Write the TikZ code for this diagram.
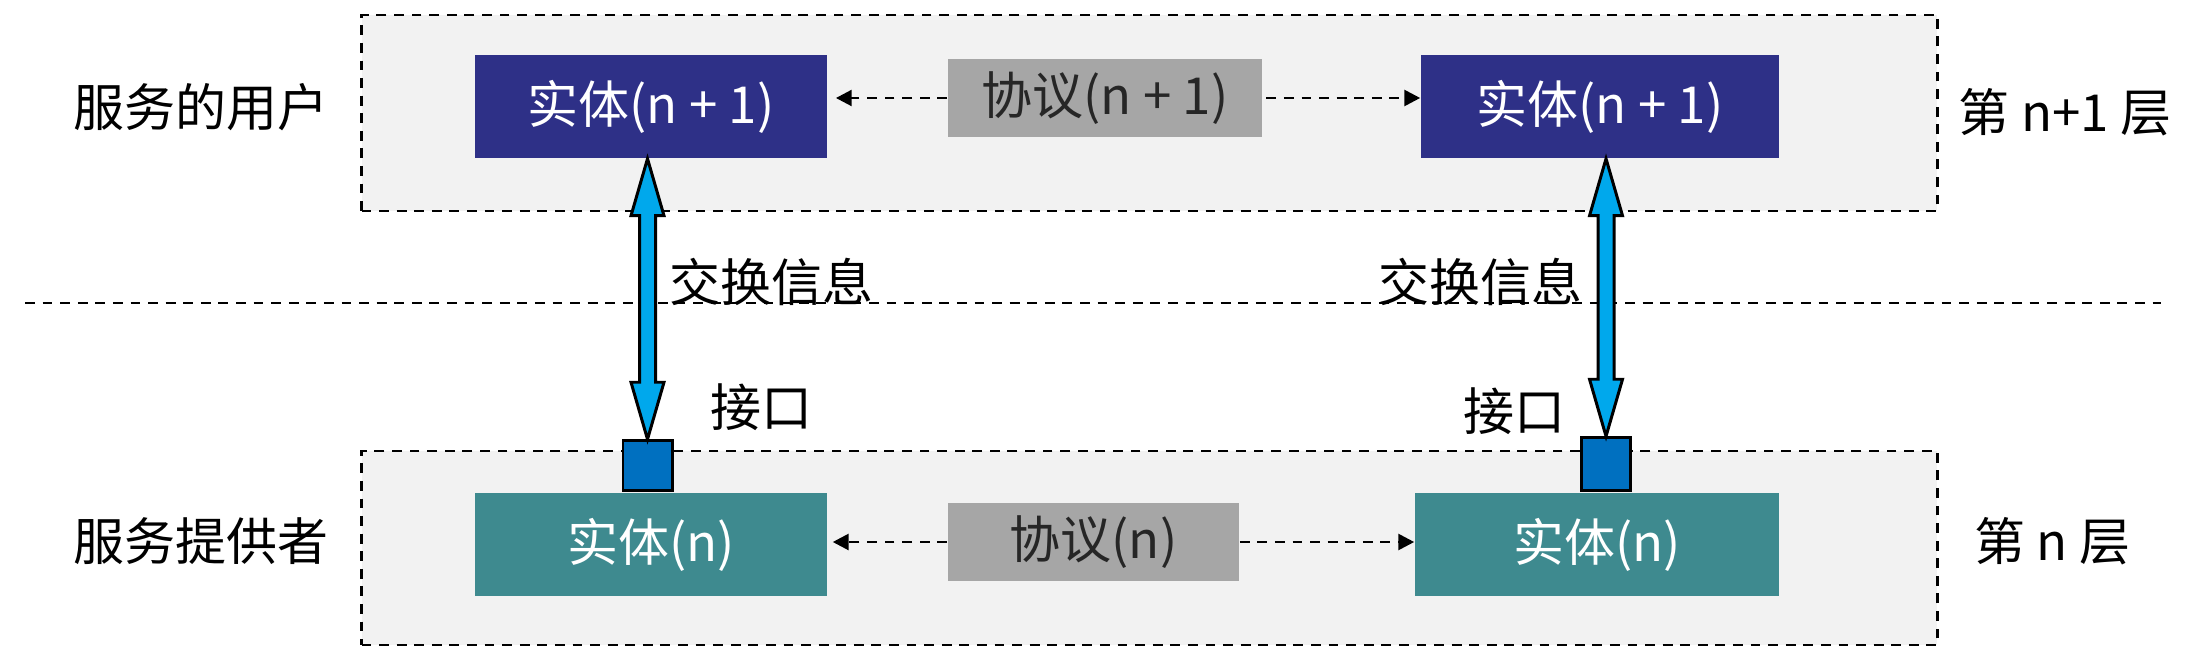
\documentclass[tikz,border=0pt]{standalone}
\usepackage{fontspec}
\setmainfont{Noto Sans CJK SC}
\usetikzlibrary{arrows.meta,positioning,calc}

\definecolor{entTop}{HTML}{2E3087}
\definecolor{entBot}{HTML}{3E8A8F}
\definecolor{protoGray}{HTML}{A6A6A6}
\definecolor{layerBg}{HTML}{F2F2F2}
\definecolor{flowBlue}{HTML}{00A8EC}
\definecolor{portBlue}{HTML}{0070C0}

\tikzset{
  layer/.style={draw, fill=layerBg, dash pattern=on 2.8pt off 2.2pt, line width=0.8pt,
    minimum width=15.75cm, inner sep=0pt},
  entity/.style={minimum height=1.03cm, inner sep=0pt, text=white},
  proto/.style={fill=protoGray, minimum height=0.78cm, inner sep=0pt, text=black!85},
  port/.style={draw, fill=portBlue, line width=0.85pt, minimum width=0.49cm,
    minimum height=0.5cm, inner sep=0pt},
  talk/.style={dash pattern=on 2.8pt off 2.2pt, line width=0.8pt,
    -{Triangle[length=4.5pt,width=4.5pt]}},
  divider/.style={dash pattern=on 2.8pt off 2.2pt, line width=0.8pt},
  flow/.style={draw, fill=flowBlue, line width=0.85pt, line join=miter},
  lbl/.style={inner sep=0pt}
}

\begin{document}
\begin{tikzpicture}[x=0.01cm,y=-0.01cm,font=\fontsize{14.5pt}{17pt}\selectfont]
  \useasboundingbox (0,0) rectangle (2186,658);

  % the two layers
  \node[layer, minimum height=1.96cm] (layTop) at (1149.5,113) {};
  \node[layer, minimum height=1.94cm] (layBot) at (1149.5,548) {};

  \coordinate (divW) at (25,303);
  \coordinate (divE) at (2161,303);
  \draw[divider] (divW) -- (divE);

  % entities and protocols
  \node[entity, fill=entTop, minimum width=3.52cm] (eT1) at (651,106.5) {实体(n + 1)};
  \node[entity, fill=entTop, minimum width=3.58cm] (eT2) at (1600,106.5) {实体(n + 1)};
  \node[proto, minimum width=3.14cm] (pT) at (1105,98) {协议(n + 1)};
  \node[entity, fill=entBot, minimum width=3.52cm] (eB1) at (651,544.5) {实体(n)};
  \node[entity, fill=entBot, minimum width=3.64cm] (eB2) at (1597,544.5) {实体(n)};
  \node[proto, minimum width=2.91cm] (pB) at (1093.5,542) {协议(n)};

  \draw[talk, shorten >=2.3pt] (pT.west) -- (eT1.east |- pT.west);
  \draw[talk, shorten <=1pt] (pT.east) -- (eT2.west |- pT.east);
  \draw[talk, shorten >=1.4pt] (pB.west) -- (eB1.east |- pB.west);
  \draw[talk] (pB.east) -- (eB2.west |- pB.east);

  % interfaces
  \node[port, above=0pt of eB1, xshift=-0.035cm] (pL) {};
  \node[port, above=0pt of eB2, xshift=0.09cm, minimum height=0.53cm] (pR) {};

  % exchange arrows
  \draw[flow] (pL.north) -- ++(-16.5,-57) -- ++(8.5,0)
    -- ($(eT1.south -| pL.north)+(-8,57)$) -- ++(-8.5,0) -- (eT1.south -| pL.north)
    -- ++(16.5,57) -- ++(-8.5,0) -- ($(pL.north)+(8,-57)$) -- ++(8.5,0) -- cycle;
  \draw[flow] (pR.north) -- ++(-16.5,-57) -- ++(8.5,0)
    -- ($(eT2.south -| pR.north)+(-8,57)$) -- ++(-8.5,0) -- (eT2.south -| pR.north)
    -- ++(16.5,57) -- ++(-8.5,0) -- ($(pR.north)+(8,-57)$) -- ++(8.5,0) -- cycle;

  % labels
  \node[lbl] (user) at (201,107) {服务的用户};
  \node[lbl] (provider) at (201,541) {服务提供者};
  \node[lbl] (lvlTop) at (2065,112) {第 n+1 层};
  \node[lbl] (lvlBot) at (2052,541) {第 n 层};
  \node[lbl] (xchgL) at (771,282) {交换信息};
  \node[lbl] (xchgR) at (1480,282) {交换信息};
  \node[lbl] (ifL) at (761,407) {接口};
  \node[lbl] (ifR) at (1514,411) {接口};
\end{tikzpicture}
\end{document}
